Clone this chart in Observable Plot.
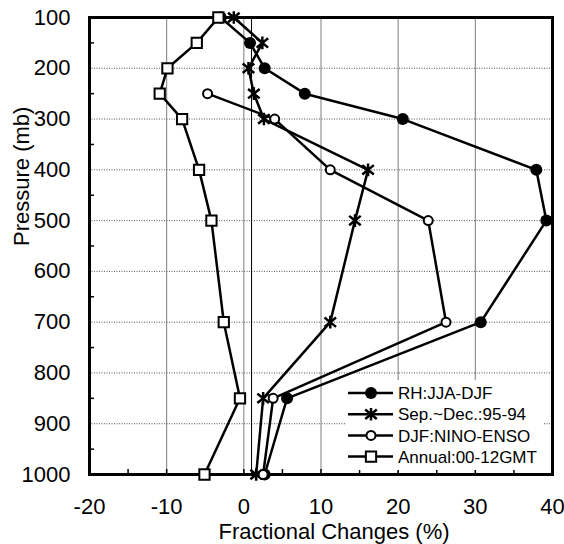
<!DOCTYPE html>
<html>
<head>
<meta charset="utf-8">
<script src="https://cdn.jsdelivr.net/npm/d3@7"></script>
<script src="https://cdn.jsdelivr.net/npm/@observablehq/plot@0.6"></script>
<style>
  html, body { margin: 0; padding: 0; background: white; }
  #wrap { position: relative; width: 564px; height: 544px; }
  #legend { position: absolute; left: 345px; top: 380px; width: 198px; height: 90px; background: white; }
</style>
</head>
<body>
<div id="wrap"><div id="chart"></div><div id="legend"></div></div>
<script>
// Data
const pressureLevels = [100, 150, 200, 250, 300, 400, 500, 700, 850, 1000];
const rhJjaDjf      = [-3.0, 0.8, 2.7, 7.9, 20.6, 37.9, 39.2, 30.7, 5.6, 2.7];
const sepDec9594    = [-1.3, 2.4, 0.6, 1.3, 2.6, 16.1, 14.4, 11.2, 2.5, 1.6];
const djfPressure   = [250, 300, 400, 500, 700, 850, 1000];
const djfNinoEnso   = [-4.7, 4.0, 11.2, 23.9, 26.2, 3.8, 2.5];
const annual0012    = [-3.3, -6.1, -9.9, -10.9, -8.0, -5.8, -4.2, -2.6, -0.5, -5.1];

const seriesNames = ["RH:JJA-DJF", "Sep.~Dec.:95-94", "DJF:NINO-ENSO", "Annual:00-12GMT"];
const xTitle = "Fractional Changes (%)";
const yTitle = "Pressure (mb)";
const xTicks = [-20, -10, 0, 10, 20, 30, 40];
const xMinorTicks = d3.range(-20, 41, 5);
const yTicks = [100, 200, 300, 400, 500, 600, 700, 800, 900, 1000];
const yMinorTicks = [150, 250, 350, 450, 550, 650, 750, 850, 950];
const refLine = [1];

const rows = (ps, vs) => ps.map((p, i) => ({p, v: vs[i]}));
const rh = rows(pressureLevels, rhJjaDjf);
const sep = rows(pressureLevels, sepDec9594);
const djf = rows(djfPressure, djfNinoEnso);
const ann = rows(pressureLevels, annual0012);

// asterisk-like star: vertical bar plus an X
const star = {
  draw(ctx, size) {
    const r = Math.sqrt(size / Math.PI);
    const a = r * 0.92, b = r * 0.75;
    ctx.moveTo(0, -r); ctx.lineTo(0, r);
    ctx.moveTo(-a, -b); ctx.lineTo(a, b);
    ctx.moveTo(-a, b); ctx.lineTo(a, -b);
  }
};

const font = "'Liberation Sans', Arial, Helvetica, sans-serif";
const lineOpts = {x: "v", y: "p", stroke: "black", strokeWidth: 2.5};

const chart = Plot.plot({
  width: 564, height: 544,
  marginLeft: 89, marginRight: 12, marginTop: 17, marginBottom: 70,
  style: {fontFamily: font, fontSize: "22px", background: "white", color: "black", overflow: "visible"},
  x: {domain: [-20, 40]},
  y: {domain: [100, 1000], reverse: true},
  marks: [
    Plot.gridY(yTicks.slice(1, -1), {stroke: "#444", strokeOpacity: 0.9, strokeDasharray: "1,1.5", strokeWidth: 1}),
    Plot.gridX(xTicks.slice(1, -1), {stroke: "#666", strokeOpacity: 0.85, strokeWidth: 1}),
    Plot.ruleX(refLine, {stroke: "black", strokeWidth: 1}),
    Plot.axisY(yTicks, {anchor: "left", tickSize: 0, tickPadding: 19, fontSize: 22, tickFormat: d => `${d}`, label: null}),
    Plot.axisY(yMinorTicks, {anchor: "left", tickSize: -5, text: null, label: null, strokeWidth: 1.5}),
    Plot.axisX(xTicks, {anchor: "bottom", tickSize: 0, tickPadding: 24, fontSize: 22, tickFormat: d => `${d}`, label: null}),
    Plot.axisX(xMinorTicks, {anchor: "bottom", tickSize: -5, text: null, label: null, strokeWidth: 1.5}),
    Plot.text([xTitle], {text: d => d, frameAnchor: "bottom", lineAnchor: "top", dy: 49, dx: 13, fontSize: 22}),
    Plot.text([yTitle], {text: d => d, frameAnchor: "left", rotate: -90, dx: -68, fontSize: 22}),
    Plot.frame({stroke: "black", strokeWidth: 3}),
    Plot.line(rh, lineOpts),
    Plot.line(sep, lineOpts),
    Plot.line(djf, lineOpts),
    Plot.line(ann, lineOpts),
    Plot.dot(rh, {x: "v", y: "p", r: 6, fill: "black"}),
    Plot.dot(sep, {x: "v", y: "p", symbol: star, r: 6.3, stroke: "black", strokeWidth: 2.5}),
    Plot.dot(djf, {x: "v", y: "p", r: 4.5, fill: "white", stroke: "black", strokeWidth: 2}),
    Plot.dot(ann, {x: "v", y: "p", symbol: "square", r: 5.8, fill: "white", stroke: "black", strokeWidth: 2})
  ]
});
document.getElementById("chart").appendChild(chart);

// Legend
const lg = d3.select("#legend").append("svg").attr("width", 198).attr("height", 90)
  .style("font-family", font).style("font-size", "17px");
const symbols = [
  g => g.append("circle").attr("r", 6).attr("fill", "black"),
  g => g.append("path").attr("d", d3.symbol(star, Math.PI * 6.3 * 6.3)()).attr("stroke", "black").attr("stroke-width", 2.5).attr("fill", "none"),
  g => g.append("circle").attr("r", 4.5).attr("fill", "white").attr("stroke", "black").attr("stroke-width", 2),
  g => g.append("path").attr("d", d3.symbol(d3.symbolSquare, Math.PI * 5.8 * 5.8)()).attr("fill", "white").attr("stroke", "black").attr("stroke-width", 2)
];
seriesNames.forEach((name, i) => {
  const g = lg.append("g").attr("transform", `translate(0,${13 + i * 21.2})`);
  g.append("line").attr("x1", 3).attr("x2", 48).attr("stroke", "black").attr("stroke-width", 2.5);
  symbols[i](g.append("g").attr("transform", "translate(26,0)"));
  g.append("text").attr("x", 53).attr("dy", "0.36em").text(name);
});
</script>
</body>
</html>
